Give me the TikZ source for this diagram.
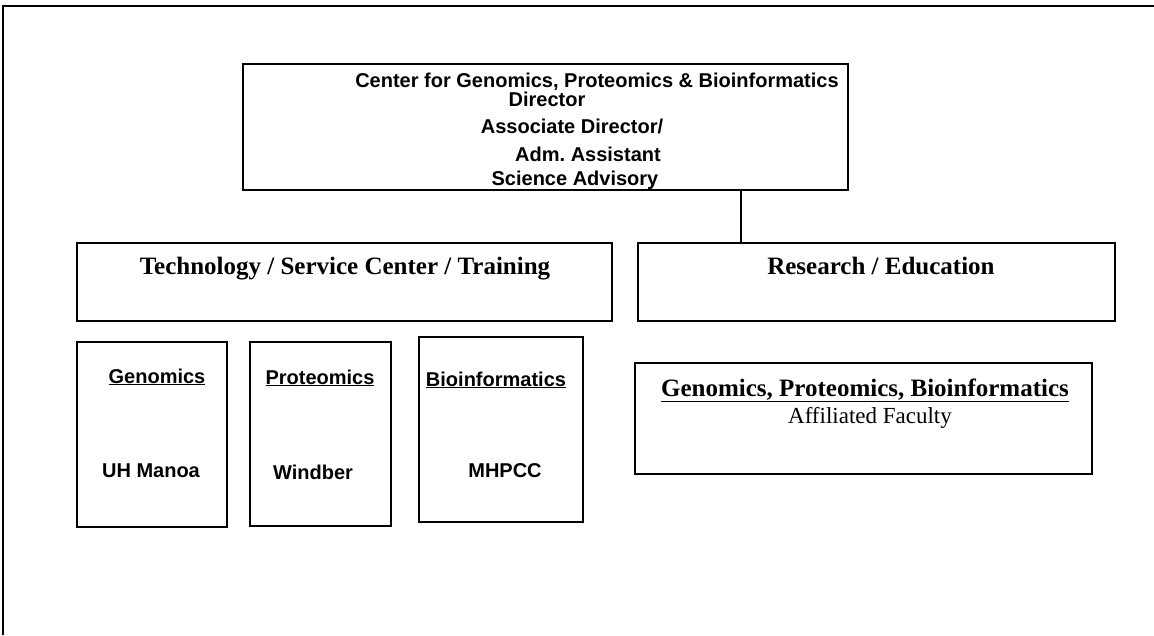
\documentclass[tikz,border=0pt]{standalone}
\usepackage{fontspec}
\setmainfont{Liberation Serif}
\setsansfont{Liberation Sans}
\usetikzlibrary{positioning,calc}
\tikzset{
  box/.style={draw, line width=1.6pt, inner sep=0pt, outer sep=0pt, anchor=north west},
  arial/.style={font=\sffamily\bfseries\fontsize{20}{22}\selectfont, inner sep=0pt, anchor=base},
  timesb/.style={font=\bfseries\fontsize{25}{27}\selectfont, inner sep=0pt, anchor=base},
  times/.style={font=\fontsize{23}{25}\selectfont, inner sep=0pt, anchor=base}
}

\begin{document}
\begin{tikzpicture}[x=1pt,y=-1pt]
\useasboundingbox (0,0) rectangle (1154,635);
% outer frame
\draw [line width=1.6pt] (3,635) -- (3,6) -- (1154,6);

% director box
\node [box, minimum width=605, minimum height=126] (centre) at (243,64) {};
\node [arial] (ctitle) at (597,87) {Center for Genomics, Proteomics \& Bioinformatics};
\node [arial] (dir) at (547,106) {Director};
\node [arial] (assoc) at (572,133) {Associate Director/};
\node [arial] (adm) at (588,161) {Adm.\ Assistant};
\node [arial] (sab) at (575,185) {Science Advisory};

% second row
\node [box, minimum width=535, minimum height=78] (tech) at (77,243) {};
\node [timesb] (techtxt) at (345,274) {Technology / Service Center / Training};
\node [box, minimum width=477, minimum height=78] (res) at (638,243) {};
\node [timesb] (restxt) at (881,274) {Research / Education};

\coordinate (link) at (741,0);
\draw [line width=1.6pt] (centre.south -| link) -- (res.north -| link);

% technology units
\node [box, minimum width=150, minimum height=185] (gen) at (77,342) {};
\node [arial] (gentxt) at (157,383) {\underline{Genomics}};
\node [arial] (uh) at (151,477) {UH Manoa};

\node [box, minimum width=141, minimum height=184] (prot) at (250,342) {};
\node [arial] (prottxt) at (320,384) {\underline{Proteomics}};
\node [arial] (wind) at (313,479) {Windber};

\node [box, minimum width=164, minimum height=185] (bio) at (419,337) {};
\node [arial] (biotxt) at (496,386) {\underline{Bioinformatics}};
\node [arial] (mhpcc) at (505,477) {MHPCC};

% research faculty
\node [box, minimum width=457, minimum height=111] (fac) at (635,363) {};
\node [timesb] (factxt) at (865,396) {\underline{Genomics, Proteomics, Bioinformatics}};
\node [times] (affil) at (870,423) {Affiliated Faculty};
\end{tikzpicture}
\end{document}
